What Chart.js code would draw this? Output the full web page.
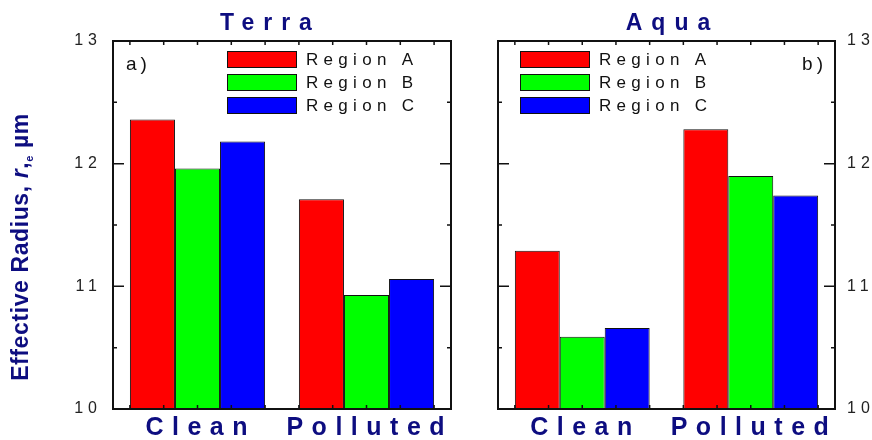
<!DOCTYPE html>
<html>
<head>
<meta charset="utf-8">
<script src="https://cdn.jsdelivr.net/npm/chart.js@4.4.1/dist/chart.umd.min.js"></script>
<style>
  body { margin: 0; background: #fff; }
  #wrap { position: relative; width: 872px; height: 440px; }
  canvas { position: absolute; left: 0; top: 0; }
</style>
</head>
<body>
<div id="wrap">
  <canvas id="terraChart" width="872" height="440"></canvas>
  <canvas id="aquaChart" width="872" height="440"></canvas>
</div>
<script>
const categories = ["Clean", "Polluted"];
const regionNames = ["Region A", "Region B", "Region C"];

const terraRegionA = [12.36, 11.71];
const terraRegionB = [11.96, 10.93];
const terraRegionC = [12.18, 11.06];

const aquaRegionA = [11.29, 12.28];
const aquaRegionB = [10.59, 11.90];
const aquaRegionC = [10.66, 11.74];

const yTicks = [10, 11, 12, 13];

const NAVY = "#0d0d80";
const FONT = '"Liberation Sans", Arial, sans-serif';
const barColors = ["#ff0000", "#00ff00", "#0000ff"];

function makeDatasets(series) {
  return series.map((vals, i) => ({
    label: regionNames[i],
    data: vals,
    backgroundColor: barColors[i],
    borderColor: "#111",
    borderWidth: 1,
    categoryPercentage: 0.8,
    barPercentage: 1.0,
  }));
}

// text with letter gaps, centred (or aligned) on x
function spacedText(ctx, text, x, y, gap, align) {
  ctx.letterSpacing = "0px";
  const total = ctx.measureText(text).width + gap * (text.length - 1);
  let left = x;
  if (align === "center") left = x - total / 2;
  if (align === "right") left = x - total;
  ctx.letterSpacing = gap + "px";
  ctx.textAlign = "left";
  ctx.fillText(text, left, y);
  ctx.letterSpacing = "0px";
}

const panelDecor = {
  id: "panelDecor",
  beforeDraw(chart) {
    chart.ctx.letterSpacing = "5px";
  },
  beforeDatasetsDraw(chart) {
    chart.ctx.letterSpacing = "0px";
  },
  afterDraw(chart, args, o) {
    const { ctx, chartArea: a } = chart;
    const x = chart.scales.x, y = chart.scales.y;
    ctx.save();

    // frame
    ctx.strokeStyle = "#111";
    ctx.lineWidth = 2;
    ctx.strokeRect(a.left, a.top, a.right - a.left, a.bottom - a.top);

    // inward y ticks, both sides
    ctx.lineWidth = 1.5;
    ctx.beginPath();
    yTicks.forEach((v, i) => {
      const py = y.getPixelForValue(v);
      if (i > 0 && i < yTicks.length - 1) {
        ctx.moveTo(a.left, py); ctx.lineTo(a.left + 11, py);
        ctx.moveTo(a.right - 11, py); ctx.lineTo(a.right, py);
      }
      if (i > 0) {
        const pm = y.getPixelForValue((v + yTicks[i - 1]) / 2);
        ctx.moveTo(a.left, pm); ctx.lineTo(a.left + 4, pm);
        ctx.moveTo(a.right - 4, pm); ctx.lineTo(a.right, pm);
      }
    });
    // small x ticks top and bottom
    const step = (a.right - a.left) / 10;
    const c0 = x.getPixelForValue(0);
    for (let k = -4; k < 10; k++) {
      const px = c0 + k * step;
      if (px < a.left + 3 || px > a.right - 3) continue;
      ctx.moveTo(px, a.top); ctx.lineTo(px, a.top + 4);
      ctx.moveTo(px, a.bottom - 4); ctx.lineTo(px, a.bottom);
    }
    ctx.stroke();

    // category labels
    ctx.fillStyle = NAVY;
    ctx.font = "bold 25px " + FONT;
    ctx.textBaseline = "alphabetic";
    chart.data.labels.forEach((lab, i) => {
      spacedText(ctx, lab, x.getPixelForValue(i) - 1, 435, 8.5, "center");
    });

    // panel title
    ctx.font = "bold 23px " + FONT;
    spacedText(ctx, o.title, o.titleX, 30, 9, "center");

    // panel tag a) / b)
    ctx.fillStyle = "#111";
    ctx.font = "19px " + FONT;
    spacedText(ctx, o.tag, o.tagX, 70, 4, o.tagAlign);

    // legend inside the plot
    ctx.font = "17px " + FONT;
    chart.data.datasets.forEach((ds, i) => {
      const top = 51 + 23 * i;
      ctx.fillStyle = ds.backgroundColor;
      ctx.fillRect(o.legendX, top, 69, 16);
      ctx.strokeStyle = "#111";
      ctx.lineWidth = 1;
      ctx.strokeRect(o.legendX + 0.5, top + 0.5, 69, 16);
      ctx.fillStyle = "#111";
      spacedText(ctx, ds.label, o.legendX + 79, top + 14, 5.3, "left");
    });

    // shared y title
    if (o.yTitle) {
      ctx.save();
      ctx.translate(28, 247);
      ctx.rotate(-Math.PI / 2);
      ctx.fillStyle = NAVY;
      ctx.letterSpacing = "0.6px";
      const parts = [
        { t: "Effective Radius, ", f: "bold 23px " + FONT, dy: 0 },
        { t: "r", f: "italic bold 23px " + FONT, dy: 0 },
        { t: ",", f: "bold 23px " + FONT, dy: 0 },
        { t: "e", f: "bold 11px " + FONT, dy: 5 },
        { t: " \u00b5m", f: "bold 23px " + FONT, dy: 0 },
      ];
      let total = 0;
      parts.forEach(p => { ctx.font = p.f; total += ctx.measureText(p.t).width; });
      let px = -total / 2;
      ctx.textAlign = "left";
      parts.forEach(p => {
        ctx.font = p.f;
        ctx.fillText(p.t, px, p.dy);
        px += ctx.measureText(p.t).width;
      });
      ctx.restore();
    }
    ctx.restore();
  },
};

function makeChart(id, series, side, decor, pad) {
  return new Chart(document.getElementById(id), {
    type: "bar",
    data: { labels: categories, datasets: makeDatasets(series) },
    plugins: [panelDecor],
    options: {
      responsive: false,
      animation: false,
      layout: { padding: pad },
      plugins: {
        legend: { display: false },
        tooltip: { enabled: false },
        panelDecor: decor,
      },
      scales: {
        x: {
          ticks: { display: false },
          grid: { display: false },
          border: { display: false },
          afterFit(s) { s.height = 31; },
        },
        y: {
          position: side,
          min: 10,
          max: 13,
          afterBuildTicks(s) { s.ticks = yTicks.map(v => ({ value: v })); },
          ticks: {
            padding: side === "left" ? 11 : 12,
            color: "#222",
            font: { family: FONT, size: 16 },
          },
          grid: { display: false, drawTicks: false },
          border: { display: false },
          afterFit(s) { s.width = side === "left" ? 113 : 37; },
        },
      },
    },
  });
}

makeChart("terraChart", [terraRegionA, terraRegionB, terraRegionC], "left",
  { title: "Terra", titleX: 266, tag: "a)", tagX: 126, tagAlign: "left", legendX: 227, yTitle: true },
  { left: 0, right: 421, top: 41, bottom: 0 });

makeChart("aquaChart", [aquaRegionA, aquaRegionB, aquaRegionC], "right",
  { title: "Aqua", titleX: 668, tag: "b)", tagX: 823, tagAlign: "right", legendX: 520, yTitle: false },
  { left: 498, right: 0, top: 41, bottom: 0 });
</script>
</body>
</html>
